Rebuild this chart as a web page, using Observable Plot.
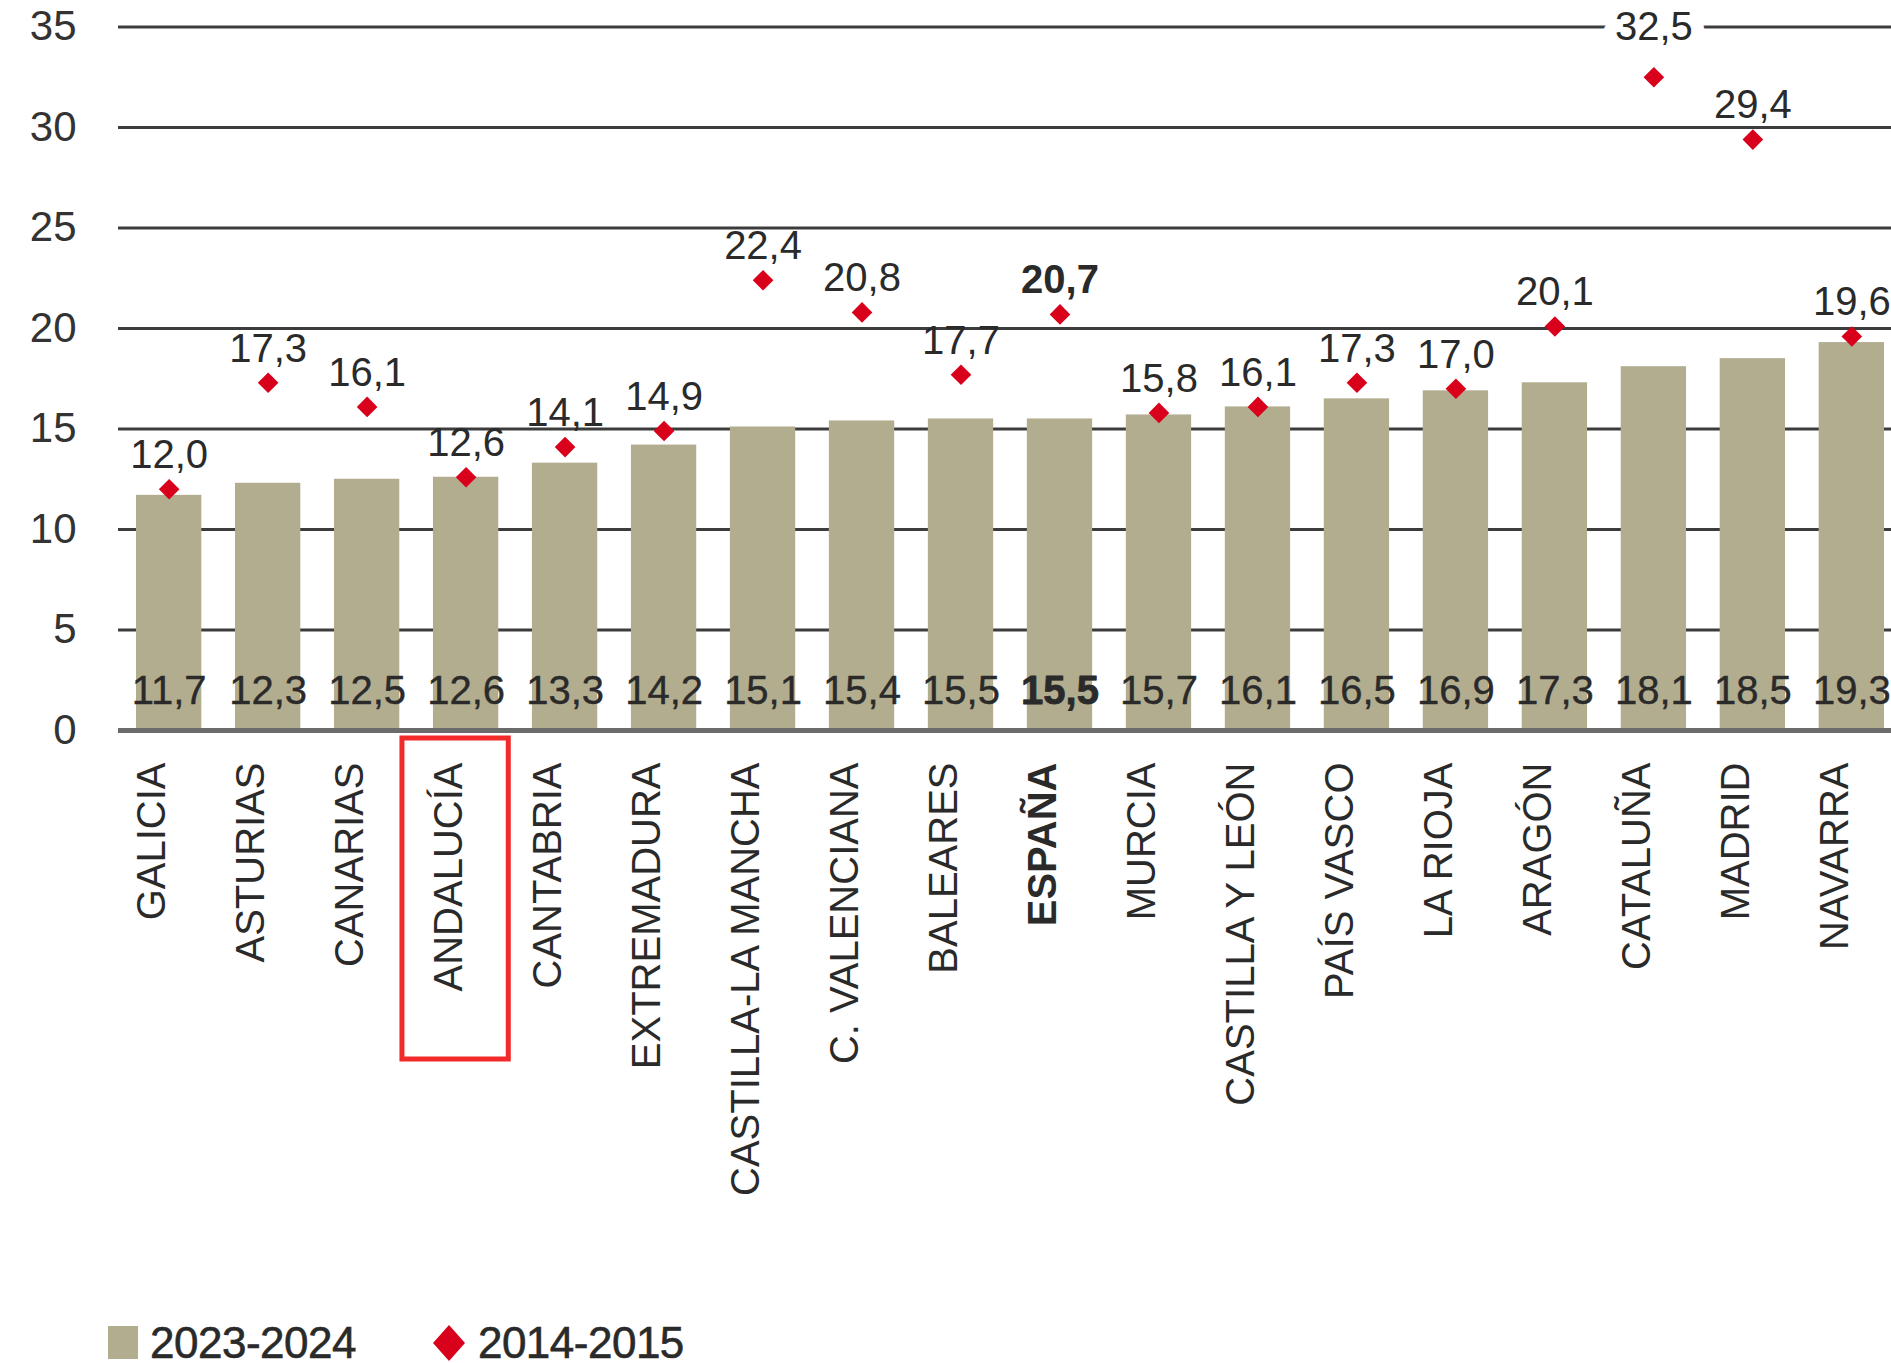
<!DOCTYPE html>
<html>
<head>
<meta charset="utf-8">
<script src="https://cdn.jsdelivr.net/npm/d3@7"></script>
<script src="https://cdn.jsdelivr.net/npm/@observablehq/plot@0.6"></script>
<style>
  html, body { margin: 0; padding: 0; background: #fff; overflow: hidden; }
  body { width: 1891px; height: 1363px; font-family: "Liberation Sans", Arial, sans-serif; }
  #legend { display: flex; align-items: center; height: 63px; padding-left: 108px; box-sizing: border-box; padding-top: 22px;
            font-size: 44px; color: #2a2a2a; -webkit-text-stroke: 0.6px #2a2a2a; letter-spacing: -0.5px; }
  #legend .item { display: flex; align-items: center; }
  #legend .item:first-child { margin-right: 76px; }
  #legend .sw { width: 30px; height: 33px; background: #b3ad8f; margin-right: 12px; }
  #legend svg { margin-right: 12px; }
</style>
</head>
<body>
<div id="chart"></div>
<div id="legend"></div>
<script>
const regions = ["GALICIA","ASTURIAS","CANARIAS","ANDALUCÍA","CANTABRIA","EXTREMADURA","CASTILLA-LA MANCHA","C. VALENCIANA","BALEARES","ESPAÑA","MURCIA","CASTILLA Y LEÓN","PAÍS VASCO","LA RIOJA","ARAGÓN","CATALUÑA","MADRID","NAVARRA"];
const v2023 = [11.7,12.3,12.5,12.6,13.3,14.2,15.1,15.4,15.5,15.5,15.7,16.1,16.5,16.9,17.3,18.1,18.5,19.3];
const v2014 = [12.0,17.3,16.1,12.6,14.1,14.9,22.4,20.8,17.7,20.7,15.8,16.1,17.3,17.0,20.1,32.5,29.4,19.6];
const yTicks = [0,5,10,15,20,25,30,35];
const seriesNames = ["2023-2024","2014-2015"];
const highlighted = "ANDALUCÍA";
const total = "ESPAÑA";

const BAR = "#b3ad8f", RED = "#d9001b", INK = "#2a2a2a";
const fmt = v => v.toFixed(1).replace(".", ",");
const data = regions.map((r, i) => ({region: r, a: v2023[i], b: v2014[i]}));
const maxB = d3.max(v2014);
const groups = [
  {rows: data.filter(d => d.region !== total), weight: "normal", sw: 0.4},
  {rows: data.filter(d => d.region === total), weight: "bold", sw: 0.8}
];

const textMarks = groups.flatMap(g => [
  Plot.text(g.rows, {x: "region", y: 0, text: d => fmt(d.a), dy: -39, fontSize: 40, fill: INK,
    stroke: INK, strokeWidth: g.sw, fontWeight: g.weight, letterSpacing: -1.5}),
  Plot.text(g.rows, {x: "region", y: 0, text: "region", rotate: -90, textAnchor: "end", lineAnchor: "bottom",
    dx: -4, dy: 32, fontSize: 40, fill: INK, fontWeight: g.weight}),
  Plot.text(g.rows.filter(d => d.b !== maxB), {x: "region", y: "b", text: d => fmt(d.b), dy: -34, fontSize: 40,
    fill: INK, fontWeight: g.weight, letterSpacing: -1})
]);

const chart = Plot.plot({
  width: 1891,
  height: 1300,
  marginLeft: 118,
  marginRight: 0,
  marginTop: 26.5,
  marginBottom: 570,
  style: {fontFamily: "'Liberation Sans', Arial, sans-serif", color: INK, background: "#fff"},
  x: {domain: regions, range: [136, 1884], paddingInner: 0.34, paddingOuter: 0, round: false, axis: null},
  y: {domain: [0, 35], axis: null},
  marks: [
    Plot.ruleY(yTicks.filter(t => t > 0), {stroke: "#3c3c3c", strokeWidth: 3}),
    Plot.axisY(yTicks, {tickSize: 0, tickPadding: 42, fontSize: 42, fill: "#333", tickFormat: d => String(d)}),
    Plot.barY(data, {x: "region", y: "a", fill: BAR}),
    Plot.ruleY([0], {stroke: "#6b6b6b", strokeWidth: 5}),
    Plot.dot(data, {x: "region", y: "b", symbol: "diamond2", r: 9.3, fill: RED, stroke: "none"}),
    ...textMarks,
    Plot.text(data.filter(d => d.b === maxB), {x: "region", y: "b", text: d => fmt(d.b), dy: -50, fontSize: 40,
      fill: INK, stroke: "white", strokeWidth: 26, paintOrder: "stroke", letterSpacing: -1}),
    Plot.barY([highlighted], {x: d => d, y1: 0, y2: 0, fill: "none", stroke: "#f22a2a", strokeWidth: 5,
      insetTop: 8, insetBottom: -329, insetLeft: -31, insetRight: -10})
  ]
});
document.getElementById("chart").appendChild(chart);

const legend = document.getElementById("legend");
legend.innerHTML = `
  <div class="item"><div class="sw"></div><span>${seriesNames[0]}</span></div>
  <div class="item"><svg width="34" height="38" viewBox="-17 -19 34 38"><path d="M0,-18L16,0L0,18L-16,0Z" fill="${RED}"/></svg><span>${seriesNames[1]}</span></div>`;
</script>
</body>
</html>
